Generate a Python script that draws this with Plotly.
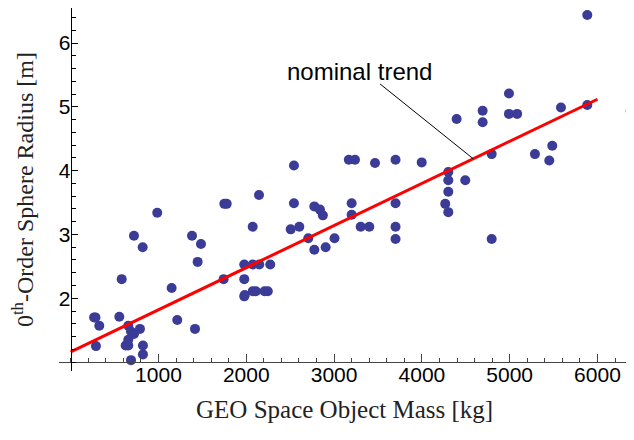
import plotly.graph_objects as go

# Data (mass in kg, radius in m)
mass_kg = [267, 282, 326, 288, 581, 554, 721, 820, 986, 656, 687, 721, 789, 656, 626, 656,
           823, 823, 687, 1150, 1214, 1416, 1382, 1484, 1446, 1750, 1777, 1742, 2073, 2145,
           1977, 2073, 2148, 2273, 1977, 1977, 1982, 2073, 2110, 2208, 2245, 2543, 2543, 2506,
           2604, 2775, 2839, 2872, 2706, 2775, 2904, 3005, 3168, 3238, 3466, 3700, 3200, 3200,
           3303, 3401, 3700, 3700, 3700, 3998, 4396, 4692, 4692, 4992, 4992, 5085, 4301, 4301,
           4494, 4301, 4266, 4301, 4795, 4795, 5884, 5584, 5884, 6378, 5485, 5288, 5451]
radius_m = [1.70, 1.70, 1.57, 1.25, 2.30, 1.71, 2.98, 2.80, 3.34, 1.57, 1.48, 1.44, 1.52, 1.35, 1.26, 1.26,
            1.26, 1.12, 1.03, 2.16, 1.66, 1.52, 2.98, 2.85, 2.57, 3.48, 3.48, 2.30, 3.12, 3.62,
            2.53, 2.53, 2.53, 2.53, 2.30, 2.03, 2.05, 2.11, 2.11, 2.11, 2.11, 4.08, 3.49, 3.08,
            3.12, 3.44, 3.39, 3.30, 2.94, 2.76, 2.80, 2.94, 4.17, 4.17, 4.12, 4.17, 3.49, 3.31,
            3.12, 3.12, 3.49, 3.12, 2.93, 4.13, 4.81, 4.94, 4.76, 5.21, 4.89, 4.89, 3.98, 3.85,
            3.85, 3.67, 3.48, 3.35, 4.26, 2.93, 6.44, 4.99, 5.03, 4.94, 4.39, 4.26, 4.16]

# Nominal trend line endpoints
trend_mass = [0, 6000]
trend_radius = [1.16, 5.12]

x_tick_vals = [1000, 2000, 3000, 4000, 5000, 6000]
y_tick_vals = [2, 3, 4, 5, 6]

# Annotation anchor points (data coords)
label_pos = (3295, 5.56)
leader_start = (3523, 5.36)
leader_end = (4582, 4.19)

X_RANGE = [-133, 6416]
Y_RANGE = [0.86, 6.55]

fig = go.Figure()
fig.add_trace(go.Scatter(
    x=mass_kg, y=radius_m, mode="markers",
    marker=dict(color="#3b3b98", size=10, line=dict(width=0)),
    showlegend=False,
))
fig.add_trace(go.Scatter(
    x=trend_mass, y=trend_radius, mode="lines",
    line=dict(color="#ff0000", width=3),
    showlegend=False,
))

fig.add_shape(type="line", xref="x", yref="y",
              x0=leader_start[0], y0=leader_start[1], x1=leader_end[0], y1=leader_end[1],
              line=dict(color="black", width=1))
fig.add_annotation(x=label_pos[0], y=label_pos[1], xref="x", yref="y",
                   text="nominal trend", showarrow=False,
                   font=dict(family="Liberation Sans", size=24, color="black"))

x_pos = (1 - Y_RANGE[0]) / (Y_RANGE[1] - Y_RANGE[0])
y_pos = (0 - X_RANGE[0]) / (X_RANGE[1] - X_RANGE[0])

fig.update_layout(
    width=634, height=440,
    margin=dict(l=51, r=8, t=0, b=77),
    plot_bgcolor="white", paper_bgcolor="white",
    xaxis=dict(range=X_RANGE, showgrid=False, zeroline=False,
               anchor="free", position=x_pos,
               showline=True, linecolor="#444", linewidth=1,
               tickvals=x_tick_vals, ticks="inside", ticklen=8, tickcolor="#444",
               ticklabelstandoff=-6,
               minor=dict(dtick=200, tick0=0, ticks="inside", ticklen=4, tickcolor="#444"),
               tickfont=dict(family="Liberation Sans", size=21, color="black")),
    yaxis=dict(range=Y_RANGE, showgrid=False, zeroline=False,
               anchor="free", position=y_pos,
               showline=True, linecolor="black", linewidth=1,
               tickvals=y_tick_vals, ticks="inside", ticklen=6, tickcolor="black",
               ticklabelstandoff=-4,
               minor=dict(dtick=0.2, tick0=0, ticks="inside", ticklen=4, tickcolor="black"),
               tickfont=dict(family="Liberation Sans", size=21, color="black")),
)

fig.add_annotation(x=0.497, y=-0.149, xref="paper", yref="paper",
                   text="GEO Space Object Mass [kg]", showarrow=False,
                   font=dict(family="Liberation Serif", size=25, color="#222"))
fig.add_annotation(x=-0.092, y=0.4986, xref="paper", yref="paper", textangle=-90,
                   text="0<sup>th</sup>-Order Sphere Radius [m]", showarrow=False,
                   font=dict(family="Liberation Serif", size=24, color="#222"))

fig.write_html("out.html")
